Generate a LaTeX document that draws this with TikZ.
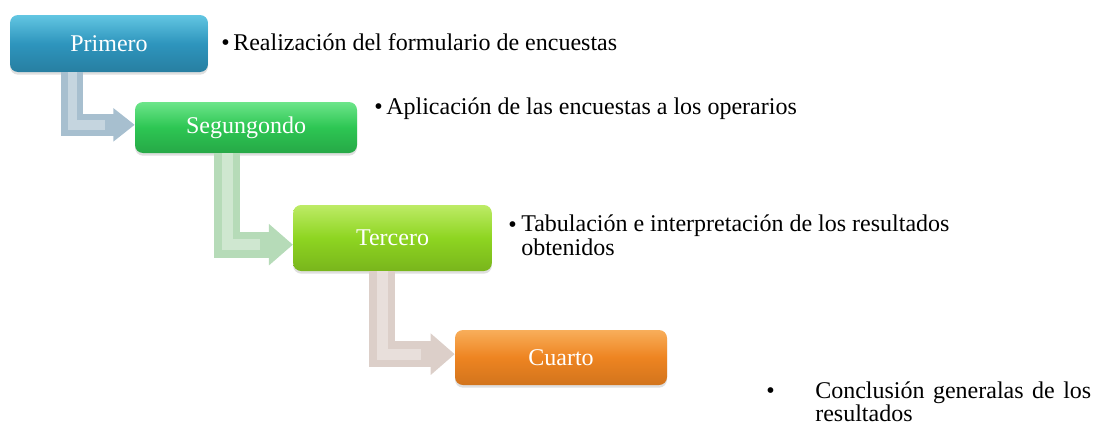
\documentclass[tikz,border=0pt]{standalone}
\usepackage{fontspec}
\setmainfont{Liberation Serif}
\usepackage{xcolor}
\usepackage{tikz}
\usetikzlibrary{calc,positioning,arrows.meta,shadows}
\definecolor{pasoazul}{HTML}{2E95BD}
\definecolor{pasoazulclaro}{HTML}{62C6E2}
\definecolor{pasoverde}{HTML}{2DC653}
\definecolor{pasoverdeclaro}{HTML}{6DE58A}
\definecolor{pasolima}{HTML}{8ED521}
\definecolor{pasolimaclaro}{HTML}{BDEB66}
\definecolor{pasonaranja}{HTML}{EE8421}
\definecolor{pasonaranjaclaro}{HTML}{F8AE5A}
\definecolor{flechaazul}{HTML}{A7BFCF}
\definecolor{flechaverde}{HTML}{B6DBB8}
\definecolor{flecharosa}{HTML}{DCCFC9}

\begin{document}
\begin{tikzpicture}[x=0.75pt, y=-0.75pt,
  every node/.style={font=\fontsize{18}{17.5}\selectfont},
  paso/.style={rounded corners=6pt, text=white, align=center, inner sep=0pt,
    drop shadow={opacity=0.25, shadow xshift=0pt, shadow yshift=-2pt}},
  vineta/.style={anchor=base west, inner sep=0pt},
  texto/.style={anchor=base west, inner sep=0pt, align=left},
  flecha/.style={line width=19.5pt, line join=miter, -{Triangle[width=30pt, length=18pt]}},
  brillo/.style={line width=8pt, white, opacity=0.35, line join=miter}
]
  \useasboundingbox (0,0) rectangle (1094,432);

  % pasos
  \node[paso, top color=pasoazulclaro, bottom color=pasoazul!85!black, middle color=pasoazul,
    minimum width=148.5pt, minimum height=42.75pt] (prim) at (109,43.5) {Primero};
  \node[paso, top color=pasoverdeclaro, bottom color=pasoverde!85!black, middle color=pasoverde,
    minimum width=166.5pt, minimum height=38.25pt] (seg) at (246,127.5) {Segungondo};
  \node[paso, top color=pasolimaclaro, bottom color=pasolima!85!black, middle color=pasolima,
    minimum width=149pt, minimum height=49.5pt] (terc) at (392.5,238) {Tercero};
  \node[paso, top color=pasonaranjaclaro, bottom color=pasonaranja!88!black, middle color=pasonaranja,
    minimum width=159pt, minimum height=41.25pt] (cuar) at (561,357.5) {Cuarto};

  % flechas entre pasos
  \draw[flecha, flechaazul, line width=16.5pt, -{Triangle[width=24pt, length=16pt]}]
    ([xshift=47pt]prim.south west) |- ([yshift=2pt]seg.west);
  \draw[brillo, line width=7pt] ([xshift=47pt]prim.south west) |- ([yshift=2pt,xshift=-22pt]seg.west);
  \draw[flecha, flechaverde] ([xshift=69.4pt]seg.south west) |- ([yshift=-5pt]terc.west);
  \draw[brillo] ([xshift=69.4pt]seg.south west) |- ([yshift=-5pt,xshift=-25pt]terc.west);
  \draw[flecha, flecharosa] ([xshift=67pt]terc.south west) |- ([yshift=2.5pt]cuar.west);
  \draw[brillo] ([xshift=67pt]terc.south west) |- ([yshift=2.5pt,xshift=-25pt]cuar.west);

  % descripciones
  \node[vineta] (b1) at (221,50) {\textbullet};
  \node[texto] (t1) at (233,50) {Realización del formulario de encuestas};
  \node[vineta] (b2) at (374,114) {\textbullet};
  \node[texto] (t2) at (386,114) {Aplicación de las encuestas a los operarios};
  \node[vineta] (b3) at (508,232) {\textbullet};
  \node[texto] (t3) at (521,255) {Tabulación e interpretación de los resultados\\obtenidos};
  \node[vineta] (b4) at (766,398) {\textbullet};
  \node[texto, text width=207pt, align=justify] (t4) at (815,398) {Conclusión generalas de los resultados};
\end{tikzpicture}
\end{document}
